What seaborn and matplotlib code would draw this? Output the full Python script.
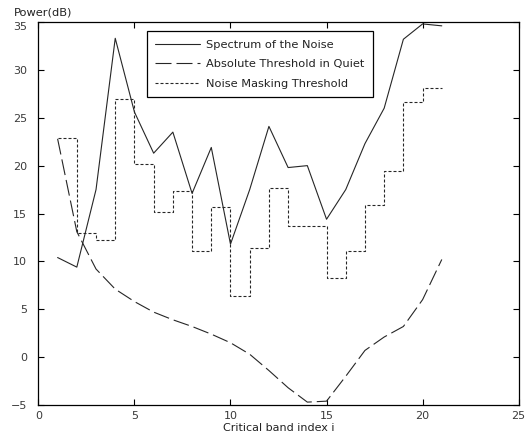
import numpy as np
import pandas as pd
import seaborn as sns
import matplotlib
matplotlib.use("Agg")
import matplotlib.pyplot as plt

# critical band index
band = list(range(1, 22))

# spectrum of the noise (dB)
spectrum = [10.4, 9.4, 17.5, 33.3, 25.6, 21.3, 23.5, 17.1, 21.9, 11.8, 17.5,
            24.1, 19.8, 20.0, 14.4, 17.5, 22.3, 26.0, 33.2, 34.8, 34.6]

# absolute threshold in quiet (dB)
quiet = [22.8, 13.1, 9.2, 7.1, 5.8, 4.7, 3.9, 3.2, 2.4, 1.5, 0.3,
         -1.4, -3.2, -4.7, -4.6, -2.0, 0.7, 2.1, 3.2, 6.0, 10.2]

# noise masking threshold per band (dB), held over each band
masking = [22.85, 13.0, 12.2, 27.0, 20.2, 15.2, 17.4, 11.1, 15.7, 6.4,
           11.4, 17.7, 13.7, 13.7, 8.3, 11.1, 15.9, 19.4, 26.6, 28.1, 28.1]

df = pd.DataFrame({"band": band, "spectrum": spectrum,
                   "quiet": quiet, "masking": masking})

sns.set_style("ticks")
plt.rcParams["font.family"] = ["DejaVu Sans"]

fig = plt.figure(figsize=(5.26, 4.43), dpi=100)
ax = fig.add_axes([0.073, 0.0858, 0.913, 0.8645])

lc = "#262626"
sns.lineplot(data=df, x="band", y="spectrum", ax=ax, color=lc, lw=0.8,
             linestyle="-", label="Spectrum of the Noise")
sns.lineplot(data=df, x="band", y="quiet", ax=ax, color=lc, lw=0.8,
             linestyle=(0, (14.4, 4.5)), label="Absolute Threshold in Quiet")
sns.lineplot(data=df, x="band", y="masking", ax=ax, color=lc, lw=0.8,
             linestyle=(0, (2.7, 1.8)), drawstyle="steps-post",
             label="Noise Masking Threshold")

ax.set_xticks(range(0, 26, 5))
ax.set_yticks(range(-5, 36, 5))
ax.set_xlim(0, 25)
ax.set_ylim(-5, 35)
ax.tick_params(direction="in", top=True, right=True, length=4, width=0.8,
               labelsize=8, labelcolor="#3a3a3a", color="black")
ax.tick_params(axis="y", pad=8)
ax.tick_params(axis="x", pad=4)
for s in ax.spines.values():
    s.set_color("black")
    s.set_linewidth(0.9)

# top y label sits a little below its tick, as in the original
ax.get_yticklabels()[-1].set_verticalalignment("top")

ax.set_xlabel("Critical band index i", fontsize=8, color="#222222", labelpad=2)
ax.set_ylabel("")
fig.text(0.027, 0.972, "Power(dB)", fontsize=8.2, color="#222222",
         ha="left", va="center")

leg = ax.legend(loc="upper left", bbox_to_anchor=(0.226, 0.9765),
                borderaxespad=0, fontsize=8.2, handlelength=3.9,
                handletextpad=0.5, labelspacing=0.85, borderpad=0.75,
                fancybox=False, framealpha=1, edgecolor="black")
leg.get_frame().set_linewidth(0.9)
for t in leg.get_texts():
    t.set_color("#222222")

fig.savefig("out.png", dpi=100)
